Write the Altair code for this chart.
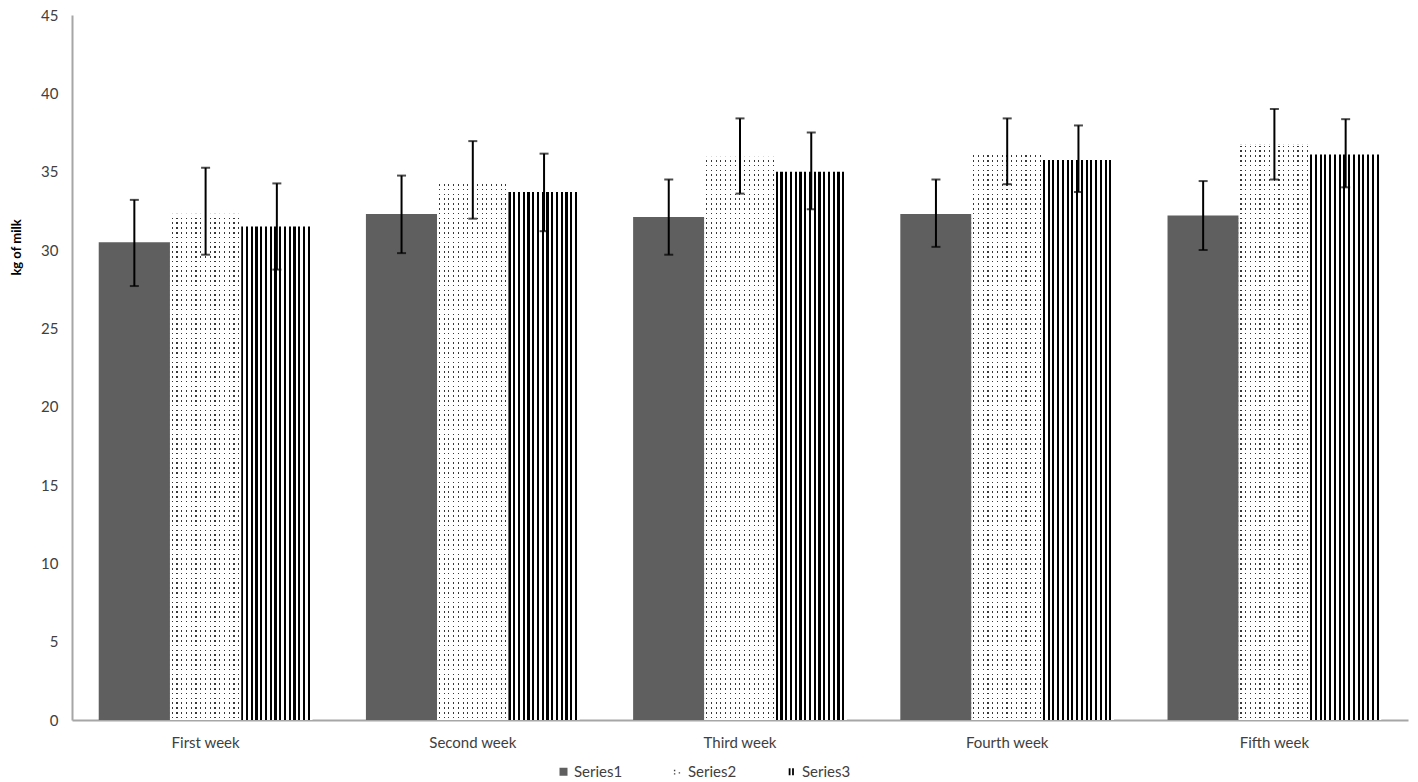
import altair as alt
import pandas as pd

weeks = ["First week", "Second week", "Third week", "Fourth week", "Fifth week"]
series_names = ["Series1", "Series2", "Series3"]

s1 = [30.5, 32.3, 32.1, 32.3, 32.2]
s2 = [32.35, 34.4, 35.95, 36.25, 36.75]
s3 = [31.5, 33.7, 35.0, 35.75, 36.1]

s1_lo = [27.7, 29.8, 29.7, 30.2, 30.0]
s1_hi = [33.2, 34.75, 34.5, 34.5, 34.4]
s2_lo = [29.7, 32.0, 33.6, 34.2, 34.5]
s2_hi = [35.25, 36.95, 38.4, 38.4, 39.0]
s3_lo = [28.75, 31.2, 32.6, 33.7, 34.0]
s3_hi = [34.25, 36.15, 37.5, 37.95, 38.35]

rows = []
for name, vals, los, his in [
    ("Series1", s1, s1_lo, s1_hi),
    ("Series2", s2, s2_lo, s2_hi),
    ("Series3", s3, s3_lo, s3_hi),
]:
    for w, v, lo, hi in zip(weeks, vals, los, his):
        rows.append({"week": w, "series": name, "value": v, "lo": lo, "hi": hi})
df = pd.DataFrame(rows)

FONT = "Lato"
PLOT_W = 1336
PLOT_H = 705
Y_MAX = 45


def stripes(n, start, frac, on, off, vertical=False):
    stops = []
    for i in range(n):
        a = i / n
        b = (i + start) / n
        c = (i + start + frac) / n
        d = 1.0 if i == n - 1 else (i + 1) / n
        stops += [
            {"offset": a, "color": off},
            {"offset": b, "color": off},
            {"offset": b, "color": on},
            {"offset": c, "color": on},
            {"offset": c, "color": off},
            {"offset": d, "color": off},
        ]
    return {
        "gradient": "linear",
        "stops": stops,
        "x1": 0,
        "y1": 0,
        "x2": 0 if vertical else 1,
        "y2": 1 if vertical else 0,
    }


def row_mask(height_px, spacing=4.8, dot=1.6):
    # rows counted from the bar's bottom edge (gradient runs bottom -> top)
    stops = []
    clear = "rgba(255,255,255,0)"
    k = 0
    while True:
        a = (k * spacing + 1.6) / height_px
        b = a + dot / height_px
        if b >= 1:
            break
        stops += [
            {"offset": a, "color": "#ffffff"},
            {"offset": a, "color": clear},
            {"offset": b, "color": clear},
            {"offset": b, "color": "#ffffff"},
        ]
        k += 1
    stops = [{"offset": 0, "color": "#ffffff"}] + stops + [{"offset": 1, "color": "#ffffff"}]
    return {"gradient": "linear", "stops": stops, "x1": 0, "y1": 1, "x2": 0, "y2": 0}


s3_fill = stripes(15, 0.0, 0.45, "#000000", "#ffffff")
s2_cols = stripes(15, 0.35, 0.24, "#383838", "#ffffff")

x_enc = alt.X(
    "week:N",
    sort=weeks,
    scale=alt.Scale(paddingInner=0.2, paddingOuter=0.1),
    axis=alt.Axis(
        title=None,
        labelAngle=0,
        ticks=False,
        labelPadding=15,
        labelFontSize=15,
        labelFont=FONT,
        labelColor="#404040",
        domainColor="#a6a6a6",
        domainWidth=2,
    ),
)
xo_enc = alt.XOffset("series:N", scale=alt.Scale(domain=series_names, paddingInner=0, paddingOuter=0))
y_scale = alt.Scale(domain=[0, Y_MAX], nice=False)

base = alt.Chart(df)

legend_cfg = dict(
    title=None,
    orient="none",
    legendX=484,
    legendY=749,
    direction="horizontal",
    labelFont=FONT,
    labelFontSize=15,
    labelColor="#404040",
    columnPadding=47,
    labelOffset=3,
    symbolSize=64,
    symbolStrokeWidth=0,
)

legend_pts = base.transform_calculate(mid="datum.value / 2").mark_point(
    filled=True, size=60, opacity=1
).encode(
    x=x_enc,
    xOffset=xo_enc,
    y=alt.Y("mid:Q", scale=y_scale),
    color=alt.Color(
        "series:N",
        scale=alt.Scale(domain=series_names, range=["#5f5f5f", "#404040", "#000000"]),
        legend=alt.Legend(**legend_cfg),
    ),
    shape=alt.Shape(
        "series:N",
        scale=alt.Scale(
            domain=series_names,
            range=[
                "square",
                "M-0.9,-0.5h0.35v0.35h-0.35Z M-0.9,0.35h0.35v0.35h-0.35Z M0.3,0.1h0.35v0.35h-0.35Z",
                "M-0.7,-0.9h0.45v1.8h-0.45Z M0.15,-0.9h0.45v1.8h-0.45Z",
            ],
        ),
        legend=alt.Legend(**legend_cfg),
    ),
)

y_axis = alt.Axis(
    title="kg of milk",
    titleFont=FONT,
    titleFontSize=13,
    titleFontWeight="bold",
    titleColor="#000000",
    titleX=-56,
    titleY=232,
    titleAngle=270,
    titleAlign="center",
    titleBaseline="middle",
    values=list(range(0, 50, 5)),
    ticks=False,
    tickSize=0,
    grid=False,
    labelPadding=14,
    labelFontSize=15,
    labelFont=FONT,
    labelColor="#404040",
    domainColor="#a6a6a6",
    domainWidth=2,
)

bar1 = base.transform_filter(alt.datum.series == "Series1").mark_bar(color="#5f5f5f").encode(
    x=x_enc, xOffset=xo_enc, y=alt.Y("value:Q", scale=y_scale, axis=y_axis)
)
bar2a = base.transform_filter(alt.datum.series == "Series2").mark_bar(fill=s2_cols).encode(
    x=x_enc, xOffset=xo_enc, y=alt.Y("value:Q", scale=y_scale)
)
bar2_masks = []
for w, v in zip(weeks, s2):
    h = v / Y_MAX * PLOT_H
    bar2_masks.append(
        base.transform_filter((alt.datum.series == "Series2") & (alt.datum.week == w))
        .mark_bar(fill=row_mask(h))
        .encode(x=x_enc, xOffset=xo_enc, y=alt.Y("value:Q", scale=y_scale))
    )
bar3 = base.transform_filter(alt.datum.series == "Series3").mark_bar(fill=s3_fill).encode(
    x=x_enc, xOffset=xo_enc, y=alt.Y("value:Q", scale=y_scale)
)

err = base.mark_rule(color="black", strokeWidth=2).encode(
    x=x_enc, xOffset=xo_enc, y=alt.Y("lo:Q", scale=y_scale), y2="hi:Q"
)
cap_hi = base.mark_tick(color="black", thickness=2, size=9).encode(
    x=x_enc, xOffset=xo_enc, y=alt.Y("hi:Q", scale=y_scale)
)
cap_lo = base.mark_tick(color="black", thickness=2, size=9).encode(
    x=x_enc, xOffset=xo_enc, y=alt.Y("lo:Q", scale=y_scale)
)

chart = (
    alt.layer(legend_pts, bar1, bar2a, *bar2_masks, bar3, err, cap_hi, cap_lo)
    .properties(
        width=PLOT_W,
        height=PLOT_H,
        autosize=alt.AutoSizeParams(type="none"),
        padding={"left": 64, "top": 7, "right": 2, "bottom": 62},
        background="white",
    )
    .configure_view(stroke=None)
)

chart.save("out.html", embed_options={"renderer": "svg", "actions": False})
